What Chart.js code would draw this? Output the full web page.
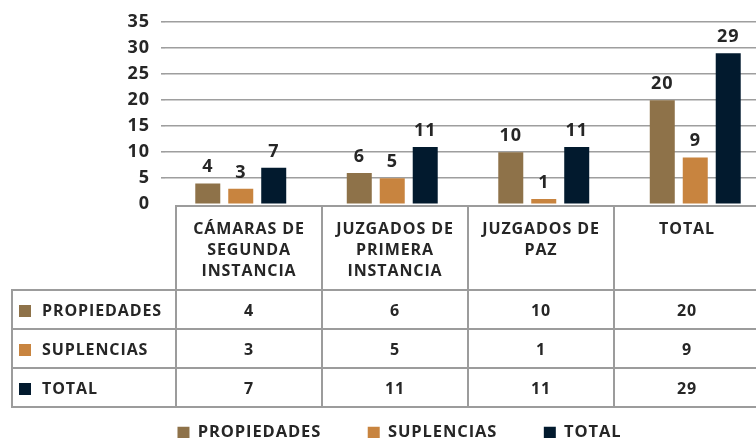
<!DOCTYPE html>
<html>
<head>
<meta charset="utf-8">
<script src="https://cdn.jsdelivr.net/npm/chart.js@4.4.1/dist/chart.umd.min.js"></script>
<style>
  html, body { margin:0; padding:0; background:#fff; overflow:hidden; width:756px; height:438px; }
  #wrap { position:relative; width:756px; height:438px; overflow:hidden; }
  #c { position:absolute; left:0; top:0; }
  #tbl { position:absolute; left:11px; top:205px; border-collapse:collapse; table-layout:fixed; width:750px;
         font-family:"Open Sans", sans-serif; font-weight:700; color:#262626; font-size:16px; letter-spacing:0.9px; }
  #tbl td { border:2px solid #9c9c9c; padding:0; text-align:center; vertical-align:middle; }
  #tbl td.blank { border-top:none; border-left:none; }
  #tbl td.head { vertical-align:top; padding-top:11px; line-height:21px; }
  #tbl td.lab { text-align:left; padding-left:6px; white-space:nowrap; }
  #tbl .sq { display:inline-block; width:12px; height:12px; margin-right:11px; vertical-align:-1px; }
</style>
</head>
<body>
<div id="wrap">
  <canvas id="c" width="793" height="451" style="width:793px;height:451px"></canvas>
  <table id="tbl"></table>
</div>
<script>
// ---- data ----
const categories = [['CÁMARAS DE','SEGUNDA','INSTANCIA'], ['JUZGADOS DE','PRIMERA','INSTANCIA'], ['JUZGADOS DE','PAZ'], ['TOTAL']];
const seriesNames = ['PROPIEDADES', 'SUPLENCIAS', 'TOTAL'];
const propiedades = [4, 6, 10, 20];
const suplencias = [3, 5, 1, 9];
const totales = [7, 11, 11, 29];
const yTickMin = 0, yTickMax = 35, yTickStep = 5;
const seriesColors = ['#8E7249', '#C8843F', '#021A2E'];
const seriesValues = [propiedades, suplencias, totales];

const FONT = '"Open Sans", sans-serif';
const TXT = '#262626';

// ---- table (built from the same arrays) ----
const tbl = document.getElementById('tbl');
let html = '<colgroup><col style="width:164px">' + categories.map(() => '<col style="width:146px">').join('') + '</colgroup>';
html += '<tr style="height:84px"><td class="blank"></td>' + categories.map(c => '<td class="head">' + c.join('<br>') + '</td>').join('') + '</tr>';
seriesNames.forEach((n, i) => {
  html += '<tr style="height:39px"><td class="lab"><span class="sq" style="background:' + seriesColors[i] + '"></span>' + n + '</td>' +
    seriesValues[i].map(v => '<td>' + v + '</td>').join('') + '</tr>';
});
tbl.innerHTML = html;

// ---- letter spacing for canvas text ----
const spacing = {
  id: 'spacing',
  beforeLayout(chart) { chart.ctx.letterSpacing = '0.9px'; },
  beforeDraw(chart) { chart.ctx.letterSpacing = '0.9px'; }
};

// ---- value labels plugin ----
const valueLabels = {
  id: 'valueLabels',
  afterDatasetsDraw(chart) {
    const ctx = chart.ctx;
    ctx.save();
    ctx.font = 'bold 18px ' + FONT;
    ctx.fillStyle = TXT;
    ctx.textAlign = 'center';
    ctx.textBaseline = 'alphabetic';
    chart.data.datasets.forEach((ds, i) => {
      chart.getDatasetMeta(i).data.forEach((el, j) => {
        ctx.fillText(String(ds.data[j]), el.x, el.y - 11);
      });
    });
    ctx.restore();
  }
};

new Chart(document.getElementById('c'), {
  type: 'bar',
  data: {
    labels: categories,
    datasets: seriesNames.map((n, i) => ({
      label: n,
      data: seriesValues[i],
      backgroundColor: seriesColors[i],
      borderWidth: 0,
      categoryPercentage: 0.653,
      barPercentage: 0.758
    }))
  },
  options: {
    responsive: false,
    maintainAspectRatio: false,
    animation: false,
    devicePixelRatio: 1,
    layout: { padding: { left: 28, right: 22, top: 22, bottom: 0 } },
    plugins: {
      legend: {
        position: 'bottom',
        labels: {
          boxWidth: 12, boxHeight: 12, padding: 46.5,
          color: TXT,
          font: { family: FONT, size: 16.5, weight: 'bold' }
        }
      },
      tooltip: { enabled: false }
    },
    scales: {
      x: {
        ticks: { display: false },
        grid: { display: false },
        border: { display: false },
        afterFit(s) { s.height = 451 - (16.5 + 46.5 + 10) - 204.3; }
      },
      y: {
        min: yTickMin, max: yTickMax,
        ticks: { stepSize: yTickStep, padding: 11, color: TXT, font: { family: FONT, size: 18, weight: 'bold' } },
        grid: {
          color: c => (c.tick && c.tick.value === 0) ? 'rgba(0,0,0,0)' : '#9e9e9e',
          lineWidth: 1.6, tickLength: 4
        },
        border: { display: false },
        afterFit(s) { s.width = 137; }
      }
    }
  },
  plugins: [spacing, valueLabels]
});
</script>
</body>
</html>
